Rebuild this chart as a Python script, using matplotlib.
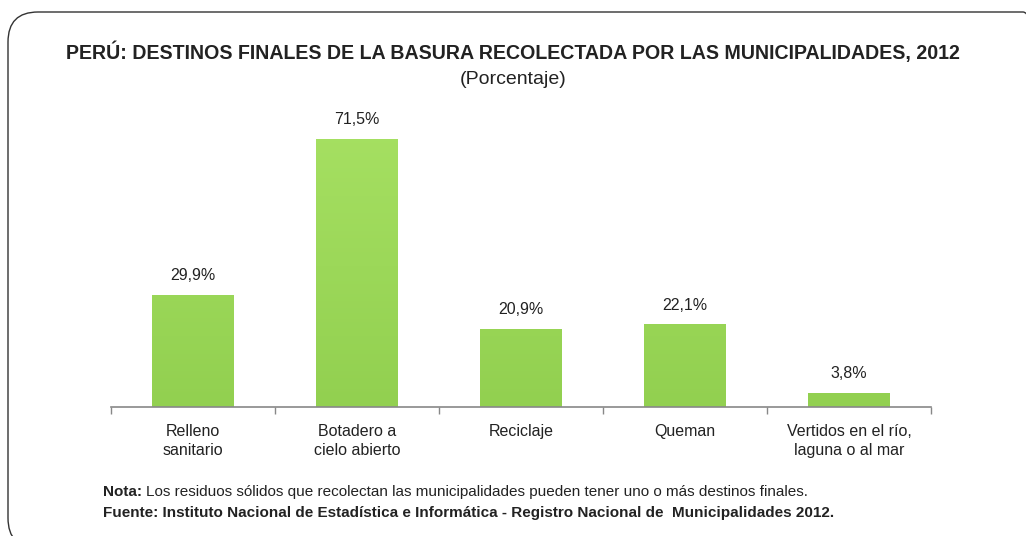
import matplotlib
matplotlib.use("Agg")
import matplotlib.pyplot as plt
import matplotlib.patches as mpatches
from matplotlib.transforms import Affine2D
import numpy as np

plt.rcParams["font.family"] = ["Liberation Sans", "DejaVu Sans"]

categorias = ["Relleno\nsanitario", "Botadero a\ncielo abierto", "Reciclaje",
              "Queman", "Vertidos en el río,\nlaguna o al mar"]
porcentajes = [29.9, 71.5, 20.9, 22.1, 3.8]
etiquetas = ["29,9%", "71,5%", "20,9%", "22,1%", "3,8%"]

titulo = "PERÚ: DESTINOS FINALES DE LA BASURA RECOLECTADA POR LAS MUNICIPALIDADES, 2012"
subtitulo = "(Porcentaje)"
nota = "Los residuos sólidos que recolectan las municipalidades pueden tener uno o más destinos finales."
fuente = "Fuente: Instituto Nacional de Estadística e Informática - Registro Nacional de  Municipalidades 2012."

W, H = 1026, 536
fig = plt.figure(figsize=(W / 100, H / 100), dpi=100)

# rounded frame in pixel units (y up), partly outside the canvas right/bottom
px = Affine2D().scale(1 / W, 1 / H) + fig.transFigure
frame = mpatches.FancyBboxPatch((8, H - 548), 1045, 536,
                                boxstyle="round,pad=0,rounding_size=30",
                                transform=px, fill=False,
                                edgecolor="#333333", linewidth=1.0)
fig.patches.append(frame)

ax = fig.add_axes([111 / W, 1 - 407 / H, 820 / W, 307 / H])
x = np.arange(len(categorias))
bars = ax.bar(x, porcentajes, width=0.5, color="#92D050", zorder=2)

# light vertical gradient inside each bar
grad = np.linspace(0, 1, 256).reshape(-1, 1)
cmap = matplotlib.colors.LinearSegmentedColormap.from_list("g", ["#92D050", "#A6E062"])
for b in bars:
    im = ax.imshow(grad, cmap=cmap, origin="lower", aspect="auto",
                   extent=[-0.5, len(categorias) - 0.5, 0, 75], zorder=2)
    im.set_clip_path(b)
    b.set_facecolor("none")
    b.set_edgecolor("none")

for xi, v, lab in zip(x, porcentajes, etiquetas):
    ax.text(xi, v + 3.1, lab, ha="center", va="bottom", fontsize=11.5, color="#222222")

ax.set_xlim(-0.5, len(categorias) - 0.5)
ax.set_ylim(0, 81.9)
ax.set_xticks(x)
ax.set_xticklabels(categorias, fontsize=11.5, color="#222222", linespacing=1.4)
ax.set_xticks(np.arange(len(categorias) + 1) - 0.5, minor=True)
ax.tick_params(axis="x", which="major", length=0, pad=12)
ax.tick_params(axis="x", which="minor", length=5, color="#888888", width=1)
ax.set_yticks([])
for s in ["left", "right", "top"]:
    ax.spines[s].set_visible(False)
ax.spines["bottom"].set_color("#888888")
ax.spines["bottom"].set_linewidth(1.2)

fig.text(0.5, 1 - 52 / H, titulo, ha="center", va="center",
         fontsize=14.1, fontweight="bold", color="#222222")
fig.text(0.5, 1 - 79 / H, subtitulo, ha="center", va="center",
         fontsize=14, color="#222222")

fig.text(103 / W, 1 - 492 / H, "Nota:", ha="left", va="center",
         fontsize=11, fontweight="bold", color="#222222")
fig.text(146 / W, 1 - 492 / H, nota, ha="left", va="center",
         fontsize=11, color="#222222")
fig.text(103 / W, 1 - 513 / H, fuente, ha="left", va="center",
         fontsize=11, fontweight="bold", color="#222222")

fig.savefig("out.png", dpi=100)
